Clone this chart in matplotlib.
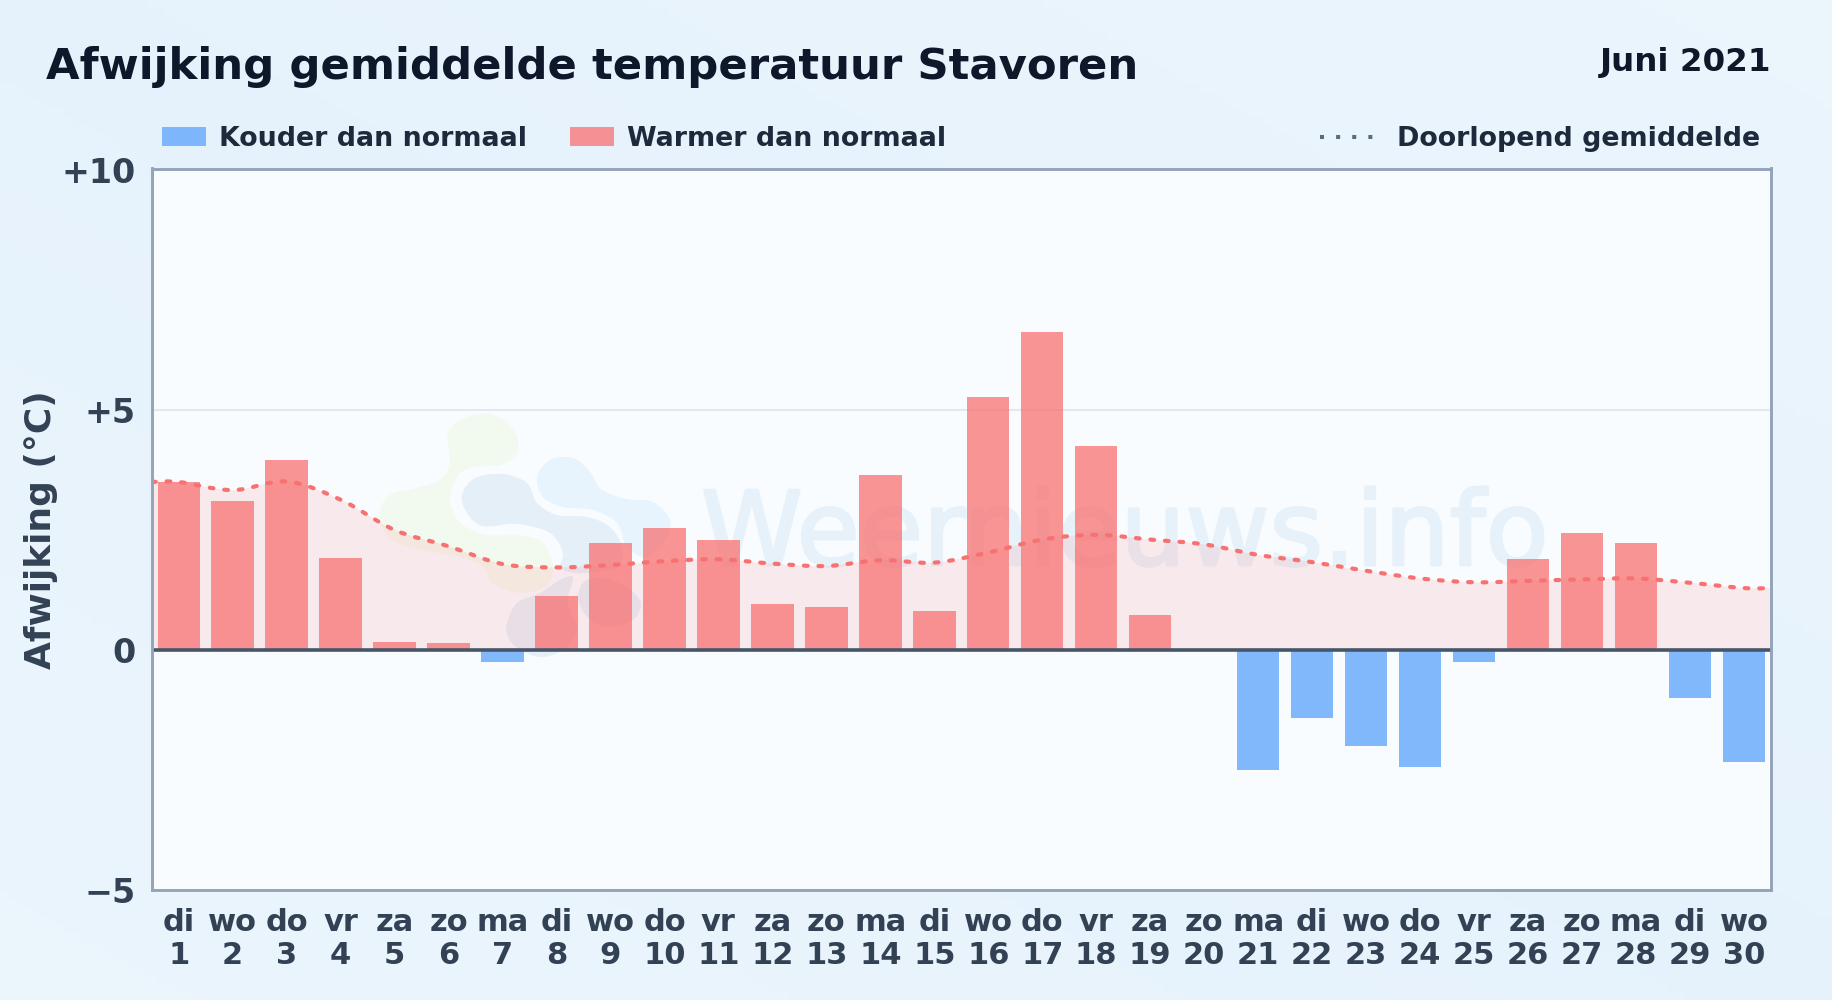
import numpy as np
import matplotlib
matplotlib.use("Agg")
import matplotlib.pyplot as plt
import matplotlib.patheffects as pe
from matplotlib.colors import to_rgba
from matplotlib.lines import Line2D
from matplotlib.patches import Patch, PathPatch
from matplotlib.path import Path
from matplotlib.transforms import Affine2D

# Chart data
days = list(range(1, 31))
weekdays = ["di", "wo", "do", "vr", "za", "zo", "ma"] * 4 + ["di", "wo"]
deviation = [3.50, 3.11, 3.96, 1.92, 0.17, 0.15, -0.24, 1.13, 2.23, 2.54,
             2.29, 0.96, 0.90, 3.65, 0.81, 5.27, 6.62, 4.25, 0.73, 0.0,
             -2.51, -1.41, -1.99, -2.43, -0.26, 1.90, 2.44, 2.23, -0.99, -2.33]
running_mean = [3.50, 3.33, 3.51, 3.13, 2.50, 2.16, 1.79, 1.72, 1.77, 1.85,
                1.89, 1.80, 1.75, 1.87, 1.82, 2.03, 2.30, 2.40, 2.30, 2.20,
                1.98, 1.83, 1.65, 1.49, 1.41, 1.44, 1.47, 1.49, 1.40, 1.29]
y_ticks = [-5, 0, 5, 10]
y_tick_labels = ["\u22125", "0", "+5", "+10"]

RED = "#f87171"
BLUE = "#60a5fa"
XMIN, XMAX = 0.5055, 30.5015

# Watermark logo outlines, in picture pixels
logo_green = [(448, 433), (467, 417), (493, 415), (515, 432), (517, 453), (500, 465),
              (473, 467), (457, 477), (450, 500), (460, 523), (487, 535), (517, 535),
              (543, 543), (553, 567), (547, 585), (520, 593), (493, 583), (483, 567),
              (460, 557), (413, 548), (388, 537), (380, 513), (390, 495), (417, 488),
              (440, 480), (450, 463)]
logo_navy = [(462, 495), (475, 478), (503, 474), (527, 483), (537, 503), (557, 515),
             (587, 517), (610, 527), (622, 547), (618, 567), (593, 572), (573, 573),
             (560, 567), (563, 553), (550, 533), (517, 524), (483, 526), (467, 513)]
logo_navy_low = [(507, 623), (517, 603), (540, 593), (560, 580), (573, 577), (568, 597),
                 (570, 613), (577, 627), (567, 647), (543, 657), (520, 650), (508, 637)]
logo_navy_right = [(578, 597), (587, 580), (613, 580), (640, 600), (633, 620), (607, 627),
                   (587, 617)]
logo_sky = [(537, 477), (550, 460), (573, 458), (590, 472), (602, 490), (627, 499),
            (653, 502), (670, 520), (665, 540), (647, 557), (627, 547), (617, 523),
            (593, 510), (563, 507), (543, 497)]


def smooth_path(xs, ys, closed=False):
    # Catmull-Rom through the points, as cubic bezier segments
    pts = np.column_stack([xs, ys]).astype(float)
    n = len(pts)
    if closed:
        get = lambda i: pts[i % n]
        segs = n
    else:
        get = lambda i: pts[min(max(i, 0), n - 1)]
        segs = n - 1
    verts = [pts[0]]
    codes = [Path.MOVETO]
    for i in range(segs):
        p0, p1, p2, p3 = get(i - 1), get(i), get(i + 1), get(i + 2)
        verts += [p1 + (p2 - p0) / 6, p2 - (p3 - p1) / 6, p2]
        codes += [Path.CURVE4] * 3
    return verts, codes


plt.rcParams["font.family"] = "DejaVu Sans"
plt.rcParams["font.weight"] = "bold"

fig = plt.figure(figsize=(18.32, 10), dpi=100)

# Page background
bg = fig.add_axes([0, 0, 1, 1], zorder=-1)
xx, yy = np.meshgrid(np.linspace(0, 1, 200), np.linspace(0, 1, 120))
t = np.abs((xx + yy) / 2 - 0.5) * 2
bg_rgb = np.dstack([0.902 + 0.022 * t, 0.950 + 0.012 * t, 0.988 + 0.003 * t])
bg.imshow(bg_rgb, aspect="auto", extent=[0, 1, 0, 1], origin="lower")
bg.axis("off")

ax = fig.add_axes([152 / 1832, 110 / 1000, 1619 / 1832, 721.5 / 1000])
ax.set_facecolor("#f8fcff")
ax.set_xlim(XMIN, XMAX)
ax.set_ylim(-5, 10.03)

# Watermark
to_pixels = Affine2D().scale(1, -1).translate(0, 1000)
logos = [(logo_green, "#f2f9ee"), (logo_navy, "#e5eff8"), (logo_navy_low, "#e5eff8"),
         (logo_navy_right, "#e5eff8"), (logo_sky, "#e7f4fd")]
for outline, colour in logos:
    v, c = smooth_path(*zip(*outline), closed=True)
    ax.add_patch(PathPatch(Path(v, c), facecolor=colour, edgecolor="none",
                           transform=to_pixels, zorder=1))
ax.text(701, 565, "Weernieuws.info", fontsize=74, fontweight="normal", color="#e7f1fa",
        ha="left", va="baseline", zorder=1.5, transform=to_pixels,
        path_effects=[pe.withStroke(linewidth=2, foreground="#e7f1fa")])

# Running mean and its area
line_x = [XMIN] + days + [XMAX]
line_y = [running_mean[0]] + running_mean + [running_mean[-1]]
verts, codes = smooth_path(line_x, line_y)
area_verts = verts + [(XMAX, 0), (XMIN, 0), (XMIN, 0)]
area_codes = codes + [Path.LINETO, Path.LINETO, Path.CLOSEPOLY]
ax.add_patch(PathPatch(Path(area_verts, area_codes), facecolor="#fc7f7f", alpha=0.14,
                       edgecolor="none", zorder=2))

# Bars
bar_colours = [to_rgba(BLUE, 0.78) if d < 0 else to_rgba(RED, 0.75) for d in deviation]
ax.bar(days, deviation, width=0.785, color=bar_colours, linewidth=0, zorder=3)

ax.add_patch(PathPatch(Path(verts, codes), facecolor="none", edgecolor=RED, linewidth=3.0,
                       linestyle=(0, (0.9, 2.6)), capstyle="round", zorder=4))

ax.axhline(0, color="#475569", linewidth=2.6, zorder=5)
ax.axhline(5, color="#e2e8f0", linewidth=1.4, zorder=1.2)

ax.set_xticks(days)
ax.set_xticklabels([f"{w}\n{d}" for w, d in zip(weekdays, days)], linespacing=1.17)
ax.set_yticks(y_ticks)
ax.set_yticklabels(y_tick_labels)
ax.tick_params(axis="x", length=0, labelsize=22, labelcolor="#334155", pad=13)
ax.tick_params(axis="y", length=0, labelsize=24, labelcolor="#334155", pad=12)
ax.set_ylabel("Afwijking (\u00b0C)", fontsize=25.9, fontweight="bold", color="#334155")
ax.yaxis.set_label_coords(58 / 1832, 1 - 530 / 1000, transform=fig.transFigure)
for s in ax.spines.values():
    s.set_color("#94a3b8")
    s.set_linewidth(2.1)
    s.set_zorder(6)

# Titles
fig.text(46 / 1832, 1 - 79 / 1000, "Afwijking gemiddelde temperatuur Stavoren", fontsize=31.2,
         color="#0f172a", ha="left", va="baseline")
fig.text(1771 / 1832, 1 - 71 / 1000, "Juni 2021", fontsize=23.4, color="#0f172a",
         ha="right", va="baseline")

# Legends
handles = [Patch(facecolor=BLUE, alpha=0.78, edgecolor="none", label="Kouder dan normaal"),
           Patch(facecolor=RED, alpha=0.75, edgecolor="none", label="Warmer dan normaal")]
fig.legend(handles=handles, ncols=2, loc="center left", frameon=False, fontsize=19.4,
           bbox_to_anchor=(162 / 1832, 1 - 139 / 1000), borderaxespad=0, borderpad=0,
           handlelength=44 / 27, handleheight=19 / 27, handletextpad=0.48,
           columnspacing=1.62, labelcolor="#1e293b")
fig.legend(handles=[Line2D([0], [0], color="#5b6b80", linewidth=2.9,
                           linestyle=(0, (1, 3)), dash_capstyle="butt",
                           label="Doorlopend gemiddelde")],
           loc="center right", frameon=False, fontsize=19.4,
           bbox_to_anchor=(1760 / 1832, 1 - 139 / 1000), borderaxespad=0, borderpad=0,
           handlelength=2.05, handletextpad=0.8, labelcolor="#1e293b")

fig.savefig("out.png", dpi=100)
